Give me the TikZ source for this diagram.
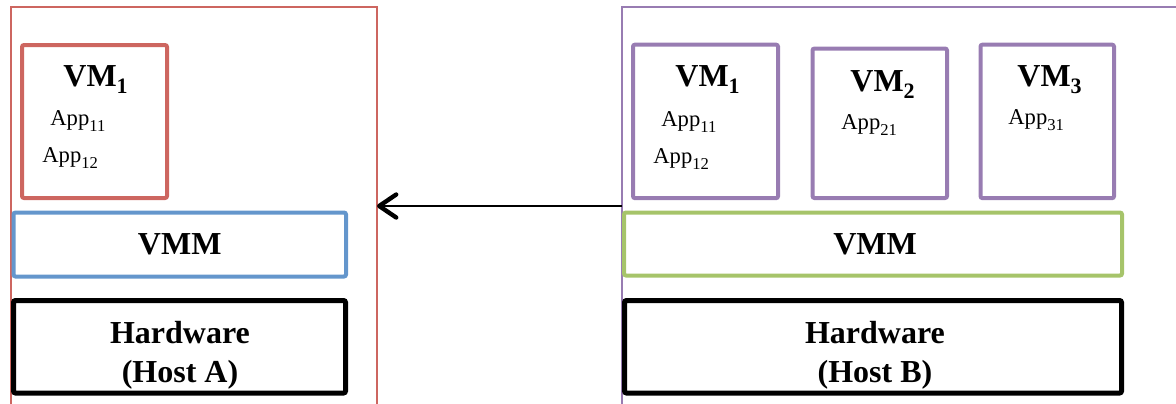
\documentclass[tikz,border=0pt]{standalone}
\usepackage{fontspec}
\setmainfont{Liberation Serif}
\usetikzlibrary{arrows.meta}

\definecolor{hostred}{RGB}{205,102,96}
\definecolor{vmmblue}{RGB}{100,150,204}
\definecolor{vmpurple}{RGB}{152,124,178}
\definecolor{vmmgreen}{RGB}{166,196,106}

% lowered subscripts set in text fonts
\newcommand\vmsub[1]{\raisebox{-3.5pt}{\fontsize{11}{12}\selectfont #1}}
\newcommand\appsub[1]{\raisebox{-3pt}{\fontsize{8.3}{9}\selectfont #1}}

\begin{document}
\begin{tikzpicture}[x=0.5pt, y=-0.5pt,
  box/.style={draw, rectangle, inner sep=0pt, outer sep=0pt, rounded corners=1pt},
  hostframe/.style={draw, rectangle, inner sep=0pt, outer sep=0pt, line width=0.75pt},
  vmbox/.style={box, draw=vmpurple, line width=2pt},
  vmmbox/.style={box, line width=2pt},
  hwbox/.style={box, draw=black, line width=2.5pt},
  vmlabel/.style={anchor=base west, inner sep=0pt, font=\fontsize{16}{19}\selectfont\bfseries},
  applabel/.style={anchor=base west, inner sep=0pt, font=\fontsize{11.3}{13}\selectfont},
  bigtext/.style={inner sep=0pt, font=\fontsize{16}{19}\selectfont\bfseries, align=center},
  migrate/.style={line width=1pt, -{Straight Barb[length=8.5pt, width=11.5pt, line width=2.2pt, line cap=round, line join=round]}}
]
\useasboundingbox (0,0) rectangle (1176,403);
\clip (0,0) rectangle (1176,403);

% host frames (open towards the bottom)
\node[hostframe, draw=hostred, minimum width=183pt, minimum height=206.5pt] (hostA) at (194,213.5) {};
\node[hostframe, draw=vmpurple, minimum width=284pt, minimum height=206.5pt] (hostB) at (906,213.5) {};

% ---- Host A ----
\node[vmbox, draw=hostred, minimum width=72.5pt, minimum height=76.5pt] (a-vm1) at (94.5,121.5) {};
\node[vmlabel] (a-vm1-t) at (63,86) {VM\vmsub{1}};
\node[applabel] (a-app11) at (50,125) {App\appsub{11}};
\node[applabel] (a-app12) at (42,162) {App\appsub{12}};

\node[vmmbox, draw=vmmblue, minimum width=166.25pt, minimum height=32pt] (a-vmm) at (179.75,244.5) {};
\node[bigtext] (a-vmm-t) at (a-vmm) {VMM};

\node[hwbox, minimum width=166pt, minimum height=46.25pt] (a-hw) at (179.5,346.75) {};
\node[bigtext, anchor=north, font=\fontsize{16}{19.2}\selectfont\bfseries] (a-hw-t) at (180,321) {Hardware\\(Host A)};

% ---- Host B ----
\node[vmbox, minimum width=72.5pt, minimum height=76.75pt] (b-vm1) at (705.5,121.4) {};
\node[vmlabel] (b-vm1-t) at (675,86) {VM\vmsub{1}};
\node[applabel] (b-app11) at (661,126) {App\appsub{11}};
\node[applabel] (b-app12) at (653,163) {App\appsub{12}};

\node[vmbox, minimum width=67.25pt, minimum height=74.75pt] (b-vm2) at (879.75,123.25) {};
\node[vmlabel] (b-vm2-t) at (850,91) {VM\vmsub{2}};
\node[applabel] (b-app21) at (841,129) {App\appsub{21}};

\node[vmbox, minimum width=66.75pt, minimum height=76.75pt] (b-vm3) at (1047.25,121.4) {};
\node[vmlabel] (b-vm3-t) at (1017,86) {VM\vmsub{3}};
\node[applabel] (b-app31) at (1008,124) {App\appsub{31}};

\node[vmmbox, draw=vmmgreen, minimum width=249pt, minimum height=31.5pt] (b-vmm) at (873,244) {};
\node[bigtext] (b-vmm-t) at (875,244) {VMM};

\node[hwbox, minimum width=248.5pt, minimum height=46.25pt] (b-hw) at (873,346.75) {};
\node[bigtext, anchor=north, font=\fontsize{16}{19.2}\selectfont\bfseries] (b-hw-t) at (875,321) {Hardware\\(Host B)};

% migration of the VM from host B to host A
\coordinate (lane) at (0,206);
\draw[migrate] (hostB.west |- lane) -- (hostA.east |- lane);
\end{tikzpicture}
\end{document}
